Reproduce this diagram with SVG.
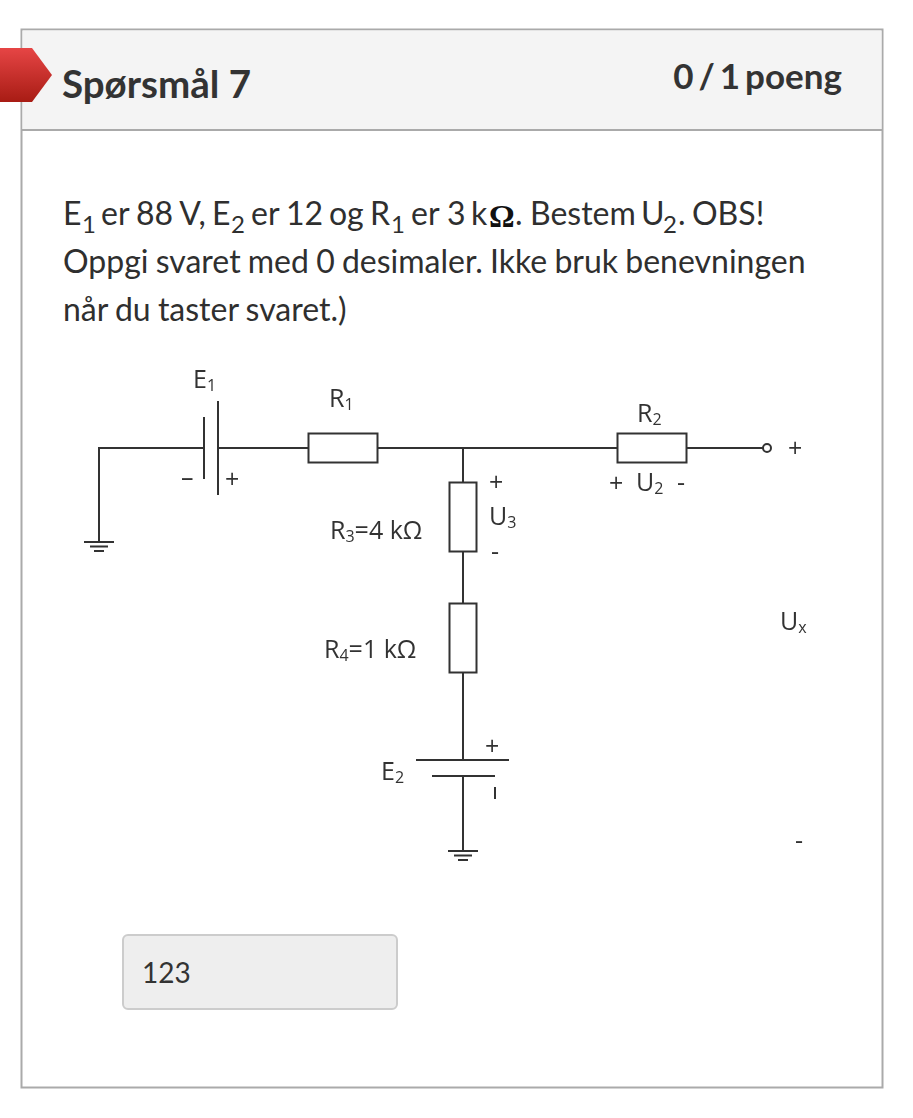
<svg xmlns="http://www.w3.org/2000/svg" width="913" height="1118" viewBox="0 0 913 1118">
<style>
text{font-family:Lato,"Open Sans","Liberation Sans",sans-serif;fill:#333}
.q{font-size:32px;fill:#2f2f2f;word-spacing:-1px}
.c{font-family:"Open Sans","Liberation Sans",sans-serif;font-size:25px;fill:#333}
.s{font-size:16px}
.w{fill:none;stroke:#333;stroke-width:2}
.r{fill:#fff;stroke:#333;stroke-width:2}
</style>
<defs>
<linearGradient id="red" x1="0" y1="0" x2="0" y2="1"><stop offset="0" stop-color="#e64545"/><stop offset="1" stop-color="#a81c14"/></linearGradient>
<filter id="soft" x="-2%" y="-2%" width="104%" height="104%"><feGaussianBlur stdDeviation="0.4"/></filter>
<g id="gnd"><path class="w" d="M-15 0H15M-9 4.500H9M-5 9H5"/></g>
</defs>
<rect width="913" height="1118" fill="#fff"/>
<g id="card">
<rect x="21.500" y="29.500" width="861" height="1058" fill="#fff" stroke="#aaa" stroke-width="2"/>
<rect x="22.500" y="30.500" width="859" height="99" fill="#f4f4f4"/>
<path d="M21 130H883" stroke="#aaa" stroke-width="2"/>
<path id="flag" d="M0 48H32L52 75L32 102H0Z" fill="url(#red)"/>
<text x="62" y="98" font-size="38.500" font-weight="700" fill="#2f2f2f">Spørsmål 7</text>
<text x="842" y="89" font-size="35" font-weight="700" fill="#5f5f5f" text-anchor="end" word-spacing="-3.500">0 / 1 poeng</text>
</g>
<g id="question">
<text class="q" y="225"><tspan x="63">E</tspan><tspan x="82" dy="8" font-size="24">1</tspan><tspan x="101" dy="-8">er</tspan><tspan x="136">88 V,</tspan><tspan x="212">E</tspan><tspan x="231" dy="8" font-size="24">2</tspan><tspan x="251" dy="-8">er</tspan><tspan x="286">12</tspan><tspan x="329">og</tspan><tspan x="370">R</tspan><tspan x="391" dy="8" font-size="24">1</tspan><tspan x="411" dy="-8">er</tspan><tspan x="447">3</tspan><tspan x="471">k</tspan><tspan x="489" dy="2" font-family="Liberation Serif" font-weight="700" font-size="32" fill="#111">Ω</tspan><tspan x="515" dy="-2">.</tspan><tspan x="530">Bestem</tspan><tspan x="641">U</tspan><tspan x="663" dy="8" font-size="24">2</tspan><tspan x="678" dy="-8">.</tspan><tspan x="692">OBS!</tspan></text>
<text class="q" x="63" y="273">Oppgi svaret med 0 desimaler. Ikke bruk benevningen</text>
<text class="q" x="63" y="321">når du taster svaret.)</text>
</g>
<g filter="url(#soft)">
<g id="connectors">
<path class="w" d="M99 541V448H204M218 448H308M377 448H617M686 448H763"/>
<path class="w" d="M463 448V482M463 551V603M463 672V760M463 776V851"/>
</g>
<g id="E1"><path class="w" d="M204 417V479M218 401V495"/><text class="c" x="193" y="388">E<tspan class="s" dy="3">1</tspan></text><text class="c" x="181" y="486">–</text><text class="c" x="225" y="488">+</text></g>
<g id="R1"><rect class="r" x="308.500" y="433.500" width="69" height="29"/><text class="c" x="329" y="407">R<tspan class="s" dy="3">1</tspan></text></g>
<g id="R2"><rect class="r" x="617.500" y="433.500" width="69" height="29"/><text class="c" x="637" y="422">R<tspan class="s" dy="3">2</tspan></text><text class="c" x="609" y="492">+</text><text class="c" x="636" y="491">U<tspan class="s" dy="3">2</tspan></text><text class="c" x="677" y="491">-</text></g>
<g id="terminal"><circle cx="767" cy="448" r="4" fill="#fff" stroke="#333" stroke-width="2"/><text class="c" x="788" y="457">+</text></g>
<g id="R3"><rect class="r" x="449.500" y="482.500" width="27" height="69"/><text class="c" x="330" y="539">R<tspan class="s" dy="3">3</tspan><tspan dy="-3">=4 kΩ</tspan></text><text class="c" x="489" y="491">+</text><text class="c" x="489" y="525">U<tspan class="s" dy="3">3</tspan></text><text class="c" x="491" y="560">-</text></g>
<g id="R4"><rect class="r" x="449.500" y="603.500" width="27" height="69"/><text class="c" x="324" y="658">R<tspan class="s" dy="3">4</tspan><tspan dy="-3">=1 kΩ</tspan></text></g>
<g id="E2"><path class="w" d="M416 760H509M432 776H495"/><text class="c" x="381" y="780">E<tspan class="s" dy="3">2</tspan></text><text class="c" x="485" y="755">+</text><path class="w" d="M495 787V799"/></g>
<use id="gnd1" href="#gnd" x="99" y="542"/>
<use id="gnd2" href="#gnd" x="463" y="851"/>
<g id="Ux"><text class="c" x="780" y="630">U<tspan class="s" dy="3">x</tspan></text><text class="c" x="795" y="849">-</text></g>
</g>
<g id="answer"><rect x="123" y="935" width="274" height="74" rx="5" fill="#eee" stroke="#ccc" stroke-width="2"/><text x="142" y="983" font-size="28" fill="#333">123</text></g>
</svg>
